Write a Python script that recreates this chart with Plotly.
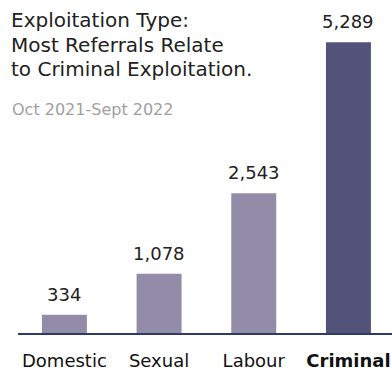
import plotly.graph_objects as go

categories = ["Domestic", "Sexual", "Labour", "Criminal"]
values = [334, 1078, 2543, 5289]
tick_labels = ["Domestic", "Sexual", "Labour", "<b>Criminal</b>"]
value_labels = ["334", "1,078", "2,543", "5,289"]
bar_colors = ["#928ca8", "#928ca8", "#928ca8", "#535278"]
title_lines = ["Exploitation Type:", "Most Referrals Relate", "to Criminal Exploitation."]
subtitle = "Oct 2021-Sept 2022"

W, H = 392, 371
ML, MR, MT, MB = 18, 0, 10, 38
PW, PH = W - ML - MR, H - MT - MB


def px_x(px):
    return (px - ML) / PW


def px_y(py):
    return 1 - (py - MT) / PH


fig = go.Figure()
fig.add_trace(go.Bar(
    x=categories, y=values,
    marker=dict(color=bar_colors, line=dict(width=0)),
    hoverinfo="skip",
))

for c, v, t in zip(categories, values, value_labels):
    fig.add_annotation(
        x=c, y=v, text=t, showarrow=False,
        yanchor="bottom", yshift=8,
        font=dict(family="DejaVu Sans", size=18, color="#222222"),
    )

for i, line in enumerate(title_lines):
    fig.add_annotation(
        xref="paper", yref="paper",
        x=px_x(9), y=px_y(20 + 24.7 * i),
        xanchor="left", yanchor="middle",
        text=line, showarrow=False, align="left",
        font=dict(family="DejaVu Sans", size=20, color="#222222"),
    )

fig.add_annotation(
    xref="paper", yref="paper",
    x=px_x(10), y=px_y(109),
    xanchor="left", yanchor="middle",
    text=subtitle, showarrow=False, align="left",
    font=dict(family="DejaVu Sans", size=16, color="#a0a0a0"),
)

fig.update_layout(
    width=W, height=H,
    margin=dict(l=ML, r=MR, t=MT, b=MB, pad=0),
    paper_bgcolor="white", plot_bgcolor="white",
    bargap=0.525,
    showlegend=False,
    xaxis=dict(
        range=[-0.49, 3.46],
        tickmode="array", tickvals=categories, ticktext=tick_labels,
        showline=True, linecolor="#2f3a68", linewidth=2,
        showgrid=False, zeroline=False, ticks="",
        ticklabelstandoff=10,
        tickfont=dict(family="DejaVu Sans", size=18, color="#111111"),
        fixedrange=True,
    ),
    yaxis=dict(
        range=[0, PH / 0.05497],
        visible=False, showgrid=False, zeroline=False, fixedrange=True,
    ),
    font=dict(family="DejaVu Sans"),
)

fig.write_html("out.html", config=dict(displayModeBar=False))
